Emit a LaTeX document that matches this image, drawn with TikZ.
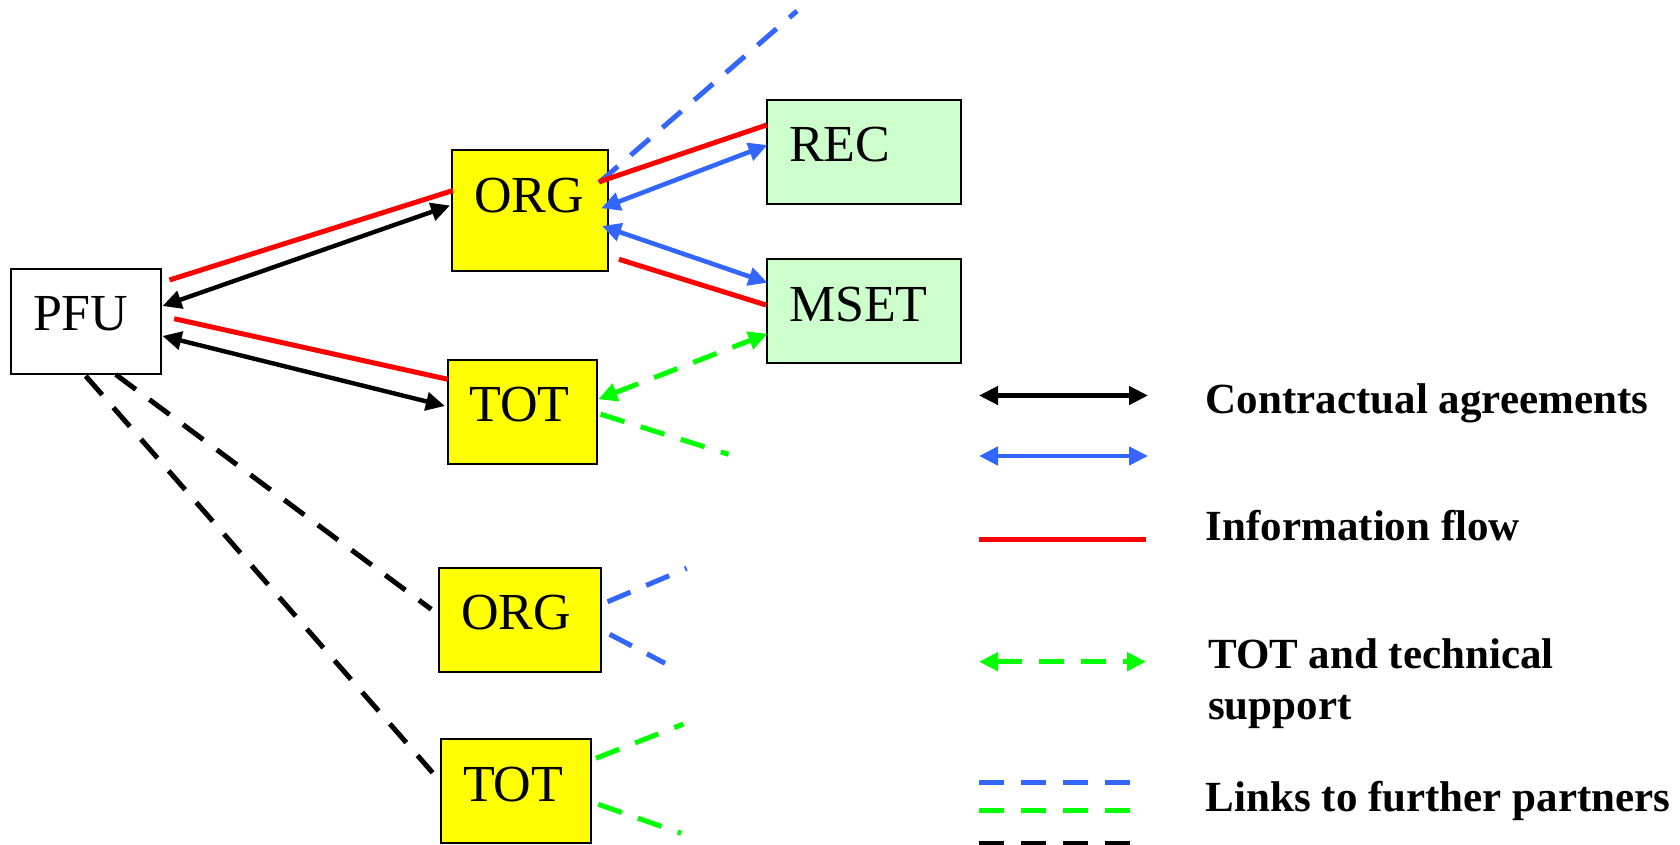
\documentclass[tikz,border=0pt]{standalone}
\usepackage{fontspec}
\setmainfont{Liberation Serif}
\usetikzlibrary{positioning, arrows.meta, calc}

\definecolor{unityellow}{RGB}{255,255,0}
\definecolor{partnergreen}{RGB}{204,255,204}
\definecolor{linkblue}{RGB}{51,102,255}
\definecolor{linkgreen}{RGB}{0,255,0}

\begin{document}
\begin{tikzpicture}[
    x=0.5pt, y=-0.5pt,
    >={Triangle[length=9.5pt, width=9pt]},
    unit/.style={rectangle, draw=black, line width=1pt, anchor=north west,
                 inner xsep=11pt, inner ysep=0pt, align=left, text height=31pt,
                 font=\fontsize{26}{30}\selectfont},
    box/.style 2 args={text width=#1, text depth=#2},
    legend/.style={anchor=base west, align=left, inner sep=0pt,
                   font=\fontsize{21.5}{25.5}\selectfont\bfseries},
    contract/.style={<->, line width=2.2pt, black},
    exchange/.style={<->, line width=2.3pt, linkblue},
    info/.style={line width=2.5pt, red},
    support/.style={<->, line width=2.5pt, linkgreen, dash pattern=on 12.5pt off 8.5pt},
    link/.style={line width=2.5pt, dash pattern=on 12.5pt off 8.5pt}
]
\useasboundingbox (0,0) rectangle (1680,845);

% Units
\node[unit, fill=white, box={52.75pt}{21.5pt}] (pfu) at (10,267.5) {PFU};
\node[unit, fill=unityellow, box={56pt}{29pt}] (org1) at (451,149.5) {ORG};
\node[unit, fill=unityellow, box={52.75pt}{21.25pt}] (tot1) at (446.5,358.5) {TOT};
\node[unit, fill=unityellow, box={58.75pt}{21pt}] (org2) at (438.2,566.8) {ORG};
\node[unit, fill=unityellow, box={53pt}{21pt}] (tot2) at (440,738.3) {TOT};
\node[unit, fill=partnergreen, box={75pt}{21pt}] (rec) at (766,98.6) {REC};
\node[unit, fill=partnergreen, box={75pt}{21pt}] (mset) at (766,258.3) {MSET};

% Free ends of the links
\coordinate (orgfar) at (797,11);
\coordinate (totfar) at (728.6,454.3);
\coordinate (org2up) at (686.7,568.3);
\coordinate (org2down) at (665,663.3);
\coordinate (tot2up) at (683.5,724);
\coordinate (tot2down) at (681.2,833.3);

% Relationships
\draw[info] ([shift={(8,12.5)}]pfu.north east) -- ([shift={(2,-20)}]org1.west);
\draw[contract] ([shift={(1,-15)}]pfu.east) -- ([shift={(-1,-5)}]org1.west);
\draw[info] ([shift={(12.7,-2.3)}]pfu.east) -- ([shift={(1.3,20.8)}]tot1.north west);
\draw[contract] ([shift={(1,15)}]pfu.east) -- ([shift={(-1.6,-5.75)}]tot1.west);
\draw[link, linkblue] ([shift={(-10,33.2)}]org1.north east) -- (orgfar);
\draw[info] ([shift={(-9.7,32.2)}]org1.north east) -- ([shift={(0.7,26.4)}]rec.north west);
\draw[exchange] ([shift={(-7.7,-2.2)}]org1.east) -- ([shift={(1.5,-6.6)}]rec.west);
\draw[exchange] ([shift={(-7,15.5)}]org1.east) -- ([shift={(1.5,24.4)}]mset.north west);
\draw[info] ([shift={(10,-12.2)}]org1.south east) -- ([shift={(0,-6.3)}]mset.west);
\draw[support] ([shift={(0.3,-12.5)}]tot1.east) -- ([shift={(1.5,-30.6)}]mset.south west);
\draw[link, linkgreen] ([shift={(2.6,2.5)}]tot1.east) -- (totfar);
\draw[link] ([shift={(30,0)}]pfu.south) -- ([shift={(-7,-10.5)}]org2.west);
\draw[link] ([shift={(0,1.5)}]pfu.south) -- ([shift={(-7.4,-18.6)}]tot2.west);
\draw[link, linkblue] ([shift={(5.8,-18)}]org2.east) -- (org2up);
\draw[link, linkblue] ([shift={(8,14.5)}]org2.east) -- (org2down);
\draw[link, linkgreen] ([shift={(4,-33)}]tot2.east) -- (tot2up);
\draw[link, linkgreen] ([shift={(6.3,13)}]tot2.east) -- (tot2down);

% Legend
\coordinate (kc1) at (979,395.5);  \coordinate (kc2) at (1148,395.5);
\coordinate (ke1) at (979,456);    \coordinate (ke2) at (1148,456);
\coordinate (ki1) at (979,539);    \coordinate (ki2) at (1146,539);
\coordinate (ks1) at (979,661.7);  \coordinate (ks2) at (1146,661.7);
\coordinate (kb1) at (979,782.3);  \coordinate (kb2) at (1130,782.3);
\coordinate (kg1) at (979,810.3);  \coordinate (kg2) at (1130,810.3);
\coordinate (kk1) at (979,843);    \coordinate (kk2) at (1130,843);

\draw[contract] (kc1) -- (kc2);
\draw[exchange] (ke1) -- (ke2);
\draw[info] (ki1) -- (ki2);
\draw[support] (ks1) -- (ks2);
\draw[link, linkblue] (kb1) -- (kb2);
\draw[link, linkgreen] (kg1) -- (kg2);
\draw[link] (kk1) -- (kk2);

\node[legend] (lcontract) at (1205.4,413.3) {Contractual agreements};
\node[legend] (linfo) at (1205.4,540) {Information flow};
\node[legend] (lsupport) at (1207.7,719.5) {TOT and technical\\support};
\node[legend] (llinks) at (1205.4,811.7) {Links to further partners};

\end{tikzpicture}
\end{document}
